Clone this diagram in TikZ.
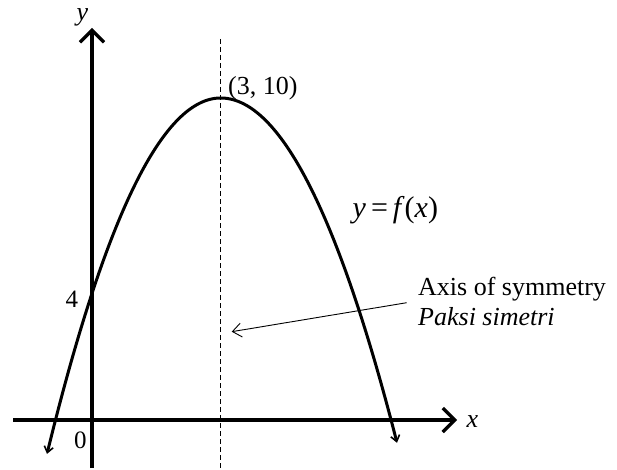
\documentclass[tikz,border=0pt]{standalone}
\usepackage{fontspec}
\setmainfont{Liberation Serif}
\usetikzlibrary{arrows.meta}
\begin{document}
\begin{tikzpicture}[x=1pt,y=-1pt,
  axisline/.style={line width=3.2pt,-{Straight Barb[length=12pt,width=24pt]}},
  curveline/.style={line width=3pt},
  lbl/.style={inner sep=0pt,anchor=base west,font=\fontsize{26}{28}\selectfont},
  symline/.style={line width=0.9pt,dash pattern=on 5pt off 3pt}]
\useasboundingbox (0,0) rectangle (617,470);
% axes
\coordinate (xs) at (13,420);
\coordinate (xe) at (457,420);
\coordinate (ys) at (92,468);
\coordinate (ye) at (92,28);
\draw[axisline] (xs) -- (xe);
\draw[axisline] (ys) -- (ye);
% axis of symmetry
\coordinate (ds) at (220.7,39);
\coordinate (de) at (220.7,470);
\draw[symline] (ds) -- (de);
% parabola
\draw[curveline,{Straight Barb[length=6pt,width=9pt,line width=1.6pt]}-]
  plot[domain=47:220.7,samples=80] (\x,{98+0.0118*(\x-220.7)*(\x-220.7)});
\draw[curveline,-{Straight Barb[length=6pt,width=9pt,line width=1.6pt]}]
  plot[domain=220.7:397,samples=80] (\x,{98+0.0111*(\x-220.7)*(\x-220.7)});
% labels
\node[lbl] (ylab) at (76.5,21) {\itshape y};
\node[lbl] (xlab) at (466.5,427) {\itshape x};
\node[lbl,font=\fontsize{25}{27}\selectfont] (four) at (65.5,307.5) {4};
\node[lbl,font=\fontsize{25}{27}\selectfont] (zero) at (74,448) {0};
\node[lbl] (vtx) at (228,95) {(3, 10)};
\node[lbl,font=\fontsize{30}{32}\selectfont] (fx) at (352.5,217) {\itshape y\/\upshape\,=\,\itshape f\/\upshape(\itshape x\/\upshape)};
\node[lbl] (axis) at (418,295) {Axis of symmetry};
\node[lbl] (paksi) at (418,325) {\itshape Paksi simetri};
% annotation arrow
\coordinate (as) at (406.7,302.7);
\coordinate (ae) at (231.7,331.7);
\draw[line width=0.9pt,-{Straight Barb[length=9pt,width=14pt]}] (as) -- (ae);
\end{tikzpicture}
\end{document}
